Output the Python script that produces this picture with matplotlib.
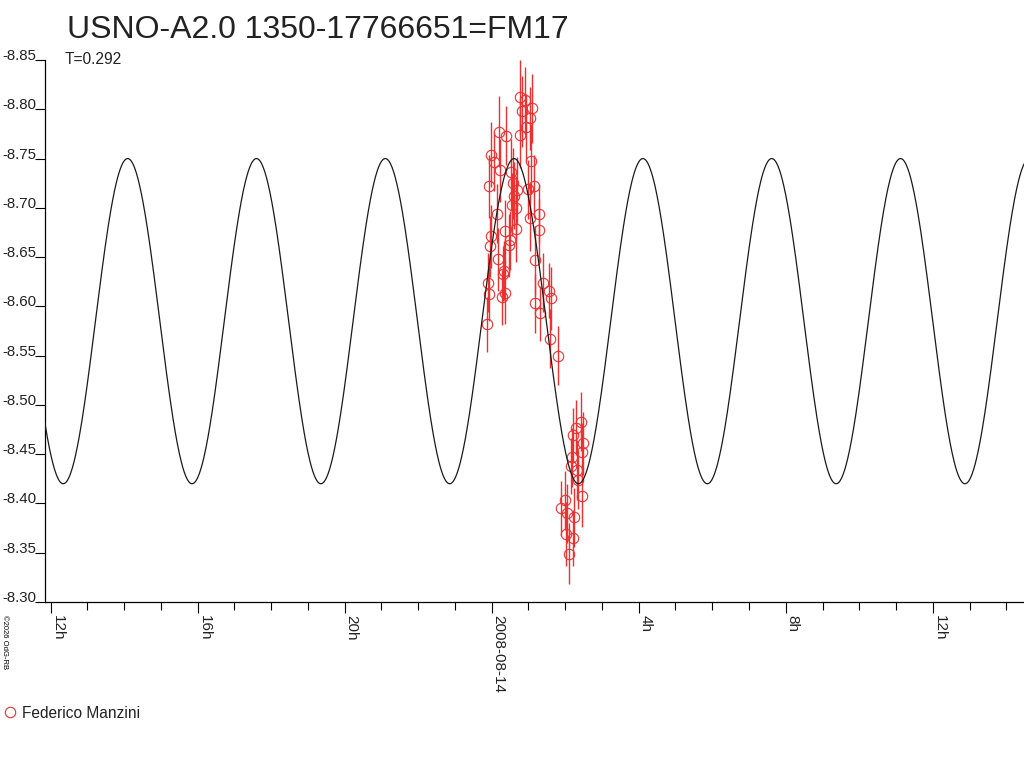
#!/usr/bin/env python3
"""Light curve of USNO-A2.0 1350-17766651 (FM17), 2008-08-13/14,
observations by one observer and the double-wave fit with period T."""
import matplotlib
matplotlib.use("Agg")
import matplotlib.pyplot as plt
from matplotlib.lines import Line2D
import numpy as np

plt.rcParams["font.family"] = ["Liberation Sans", "DejaVu Sans"]

TITLE = "USNO-A2.0 1350-17766651=FM17"
PERIOD_LABEL = "T=0.292"
OBSERVER = "Federico Manzini"
CREDIT = "\u00a92026 OdG-RB"

# fitted model (period in days, double wave)
period_days = 0.292
fit_mean = -8.585
fit_amp = 0.165
fit_tmax = 0.61          # hours after 2008-08-14 00:00 of a light maximum

# observations: hours after 2008-08-14 00:00, magnitude, error
obs_hours = [0.778, 0.897, 0.832, 1.104, 1.033, 0.761, 0.190, 0.397, -0.011, 0.063,
             1.077, -0.082, 1.150, 0.987, 0.669, 1.033, 1.286, 1.286, 0.653, 0.354,
             -0.027, 0.490, -0.038, 0.470, 0.171, 0.326, 0.307, -0.101, -0.073, 0.354,
             0.280, -0.120, 1.169, 1.395, 1.550, 1.621, 1.169, 1.305, 1.594, 1.803,
             0.525, 0.579, 0.606, 0.552, 0.688, 0.226, 0.144, 0.933,
             2.420, 2.219, 2.475, 2.448, 2.176, 2.157, 2.355, 2.448, 1.993, 1.877,
             2.040, 2.238, 2.021, 2.219, 2.102, 2.320, 2.293]
obs_mag = [-8.812, -8.809, -8.798, -8.801, -8.791, -8.774, -8.777, -8.773, -8.754, -8.747,
           -8.748, -8.722, -8.722, -8.719, -8.700, -8.690, -8.694, -8.677, -8.679, -8.676,
           -8.671, -8.667, -8.661, -8.662, -8.648, -8.636, -8.633, -8.624, -8.613, -8.614,
           -8.609, -8.582, -8.647, -8.624, -8.616, -8.608, -8.603, -8.593, -8.567, -8.550,
           -8.736, -8.725, -8.712, -8.703, -8.718, -8.738, -8.694, -8.782,
           -8.483, -8.469, -8.461, -8.452, -8.447, -8.438, -8.424, -8.408, -8.403, -8.395,
           -8.390, -8.386, -8.369, -8.365, -8.349, -8.434, -8.477]
obs_err = [0.038, 0.034, 0.036, 0.035, 0.032, 0.034, 0.036, 0.030, 0.033, 0.030,
           0.034, 0.032, 0.032, 0.030, 0.032, 0.034, 0.030, 0.032, 0.034, 0.032,
           0.032, 0.030, 0.031, 0.032, 0.032, 0.030, 0.028, 0.030, 0.028, 0.032,
           0.028, 0.028, 0.035, 0.030, 0.028, 0.032, 0.030, 0.028, 0.030, 0.030,
           0.034, 0.036, 0.034, 0.032, 0.034, 0.032, 0.030, 0.034,
           0.030, 0.028, 0.032, 0.030, 0.030, 0.028, 0.030, 0.032, 0.030, 0.028,
           0.030, 0.030, 0.032, 0.028, 0.031, 0.030, 0.028]

# axes
x_range = (-12.15, 14.48)
y_ticks = [-8.85, -8.80, -8.75, -8.70, -8.65, -8.60, -8.55, -8.50, -8.45, -8.40, -8.35, -8.30]
x_major = [-12, -8, -4, 0, 4, 8, 12]
x_labels = ["12h", "16h", "20h", "2008-08-14", "4h", "8h", "12h"]
x_minor = list(range(-12, 15))

RED = "#ee3030"
W, H = 1024, 768

fig = plt.figure(figsize=(W / 100, H / 100), dpi=100)
ax = fig.add_axes([45 / W, 1 - 602 / H, 1 - 45 / W, (602 - 60) / H])

t = np.linspace(x_range[0], x_range[1], 2000)
model = fit_mean - fit_amp * np.cos(4 * np.pi * (t - fit_tmax) / (period_days * 24))
ax.errorbar(obs_hours, obs_mag, yerr=obs_err, fmt="o", ms=7.5, mfc="none",
            mec=RED, mew=0.8, ecolor=RED, elinewidth=1.0, capsize=0, zorder=2)
ax.plot(t, model, color="#1a1a1a", lw=0.9, zorder=3)

ax.set_xlim(*x_range)
ax.set_ylim(y_ticks[-1], y_ticks[0])
for s in ("top", "right"):
    ax.spines[s].set_visible(False)
for s in ("left", "bottom"):
    ax.spines[s].set_linewidth(0.9)

ax.set_yticks(y_ticks, [f"{v:.2f}" for v in y_ticks])
ax.tick_params(axis="y", direction="out", length=7.2, width=0.8, pad=-0.8,
               labelsize=10.8, labelcolor="#222222")
plt.setp(ax.get_yticklabels(), va="baseline")

ax.set_xticks(x_major, x_labels, rotation=270, ha="left", va="top")
ax.set_xticks(x_minor, minor=True)
ax.tick_params(axis="x", which="major", direction="out", length=8, width=0.8,
               pad=1.5, labelsize=11, labelcolor="#222222")
ax.tick_params(axis="x", which="minor", direction="out", length=5.8, width=0.8)

fig.text(67 / W, 1 - 38 / H, TITLE, fontsize=23, color="#222222",
         ha="left", va="baseline")
fig.text(65 / W, 1 - 64 / H, PERIOD_LABEL, fontsize=11.2, color="#222222",
         ha="left", va="baseline")
fig.text(1 / W, 1 - 615 / H, CREDIT, fontsize=5.5, rotation=270,
         ha="left", va="top")

handle = Line2D([], [], ls="none", marker="o", ms=7.5, mfc="none", mec=RED, mew=0.8)
fig.legend([handle], [OBSERVER], loc="center left",
           bbox_to_anchor=(3 / W, 1 - 713 / H), frameon=False, fontsize=11.2,
           handlelength=0.9, handletextpad=0.35, borderpad=0, borderaxespad=0,
           labelcolor="#222222")

fig.savefig("out.png", dpi=100)
